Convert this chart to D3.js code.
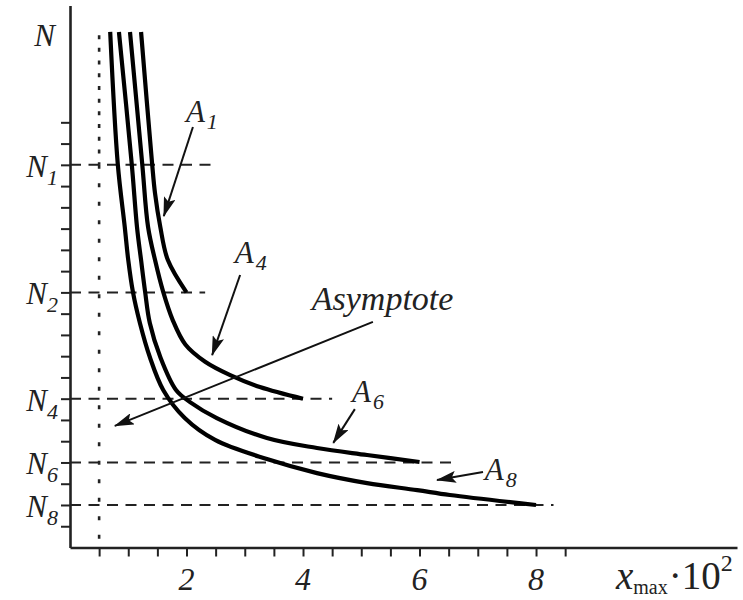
<!DOCTYPE html>
<html><head><meta charset="utf-8">
<script src="https://cdn.jsdelivr.net/npm/d3@7"></script>
<style>
body{margin:0;background:#fff;}
</style></head>
<body><svg id="c" width="743" height="600" font-family="'Liberation Serif', 'DejaVu Serif', serif"></svg>
<script>
// ---- data ----
const xTicks = d3.range(0.5, 8.51, 0.5);
const xTickLabels = [2, 4, 6, 8];
const yTicks = d3.range(1, 21, 1);
const levelNames = ["N1", "N2", "N4", "N6", "N8"];
const levelValues = [18, 12, 7, 4, 2];
const levelExtent = [2.44, 2.32, 4.5, 6.6, 8.3];
const asymptoteX = 0.5;

const curveNames = ["A1", "A4", "A6", "A8"];
const a1X = [1.22, 1.41, 1.46, 1.55, 1.68, 2.0];
const a1N = [24.25, 18.04, 16.65, 15.08, 13.52, 12.0];
const a4X = [1.03, 1.24, 1.34, 1.46, 1.60, 1.76, 1.98, 2.32, 2.75, 3.26, 4.0];
const a4N = [24.25, 18.04, 15.08, 13.52, 12.02, 10.72, 9.55, 8.74, 8.11, 7.55, 7.0];
const a6X = [0.84, 1.06, 1.15, 1.22, 1.29, 1.37, 1.55, 1.82, 2.06, 2.52, 3.38, 4.24, 5.10, 6.0];
const a6N = [24.25, 18.04, 15.08, 13.52, 12.02, 10.56, 8.96, 7.41, 6.84, 6.09, 5.15, 4.68, 4.35, 4.02];
const a8X = [0.69, 0.82, 0.94, 1.00, 1.08, 1.20, 1.37, 1.60, 1.97, 2.49, 3.38, 4.24, 5.10, 5.96, 6.52, 8.0];
const a8N = [24.25, 18.04, 15.08, 13.52, 12.02, 10.56, 8.96, 7.41, 6.09, 5.06, 4.16, 3.50, 3.03, 2.70, 2.47, 2.0];

// annotations: label anchor and arrow (from -> to) in data units
const annoText = ["A1", "A4", "Asymptote", "A6", "A8"];
const annoLabelX = [1.99, 2.83, 4.15, 4.84, 7.12];
const annoLabelN = [20.02, 13.38, 11.17, 6.84, 3.17];
const arrowFromX = [2.11, 2.92, 5.20, 4.89, 7.09];
const arrowFromN = [19.78, 12.82, 10.61, 6.51, 3.55];
const arrowToX = [1.61, 2.44, 0.77, 4.52, 6.30];
const arrowToN = [15.59, 9.05, 5.72, 4.92, 3.17];

// ---- layout ----
const svg = d3.select("#c");
const x = d3.scaleLinear().domain([0, 11.45]).range([70, 737]);
const y = d3.scaleLinear().domain([0, 25.5]).range([547.5, 5.4]);

svg.append("defs").append("marker")
  .attr("id", "ah").attr("viewBox", "0 0 20 12").attr("refX", 19).attr("refY", 6)
  .attr("markerWidth", 20).attr("markerHeight", 12).attr("markerUnits", "userSpaceOnUse")
  .attr("orient", "auto")
  .append("path").attr("d", "M0,0 L20,6 L0,12 L4,6 Z").attr("fill", "#111");

// axes
const gx = svg.append("g").attr("transform", `translate(0,${y(0)})`)
  .call(d3.axisBottom(x).tickValues(xTicks).tickSize(9).tickSizeOuter(0).tickFormat(""));
const gy = svg.append("g").attr("transform", `translate(${x(0)},0)`)
  .call(d3.axisLeft(y).tickValues(yTicks).tickSize(9).tickSizeOuter(0).tickFormat(""));
[gx, gy].forEach(g => {
  g.select(".domain").attr("stroke", "#222").attr("stroke-width", 2.6);
  g.selectAll(".tick line").attr("stroke", "#222").attr("stroke-width", 2);
});

const FONT = "'Liberation Serif', 'DejaVu Serif', serif";

// x tick labels
svg.append("g").selectAll("text").data(xTickLabels).join("text")
  .attr("x", d => x(d)).attr("y", y(0) + 42)
  .attr("text-anchor", "middle").attr("font-family", FONT).attr("font-style", "italic").attr("font-size", 32)
  .attr("fill", "#222").text(d => d);

// x axis title
const xt = svg.append("text").attr("x", 616).attr("y", 589).attr("font-size", 39)
  .attr("font-family", FONT).attr("fill", "#222");
xt.append("tspan").attr("font-style", "italic").text("x");
xt.append("tspan").attr("font-size", 20).attr("dy", 5).text("max");
xt.append("tspan").attr("dy", -5).attr("dx", 1).text("·10");
xt.append("tspan").attr("font-size", 24).attr("dy", -18).text("2");

// y labels
svg.append("text").attr("x", x(0) - 15).attr("y", y(24.15) + 12)
  .attr("text-anchor", "end").attr("font-family", FONT).attr("font-style", "italic")
  .attr("font-size", 31).attr("fill", "#222").text("N");
const lv = svg.append("g").selectAll("text").data(levelNames).join("text")
  .attr("x", x(0) - 12).attr("y", (d, i) => y(levelValues[i]) + 12)
  .attr("text-anchor", "end").attr("font-family", FONT).attr("font-style", "italic")
  .attr("font-size", 31).attr("fill", "#222");
lv.append("tspan").text(d => d[0]);
lv.append("tspan").attr("font-size", 22).attr("dy", 8).text(d => d.slice(1));

// dashed level lines
svg.append("g").selectAll("line").data(levelValues).join("line")
  .attr("x1", x(0)).attr("x2", (d, i) => x(levelExtent[i]))
  .attr("y1", d => y(d)).attr("y2", d => y(d))
  .attr("stroke", "#222").attr("stroke-width", 2).attr("stroke-dasharray", "11,7.5");

// dotted asymptote (denser dots above N1)
svg.append("line").attr("x1", x(asymptoteX)).attr("x2", x(asymptoteX))
  .attr("y1", y(24.1)).attr("y2", y(levelValues[0]))
  .attr("stroke", "#222").attr("stroke-width", 2.6).attr("stroke-dasharray", "4,8.7");
svg.append("line").attr("x1", x(asymptoteX)).attr("x2", x(asymptoteX))
  .attr("y1", y(levelValues[0])).attr("y2", y(0))
  .attr("stroke", "#222").attr("stroke-width", 2.6).attr("stroke-dasharray", "4,14.5");

// curves
const series = [[a1X, a1N], [a4X, a4N], [a6X, a6N], [a8X, a8N]];
const line = d3.line().x(d => x(d[0])).y(d => y(d[1])).curve(d3.curveCatmullRom.alpha(0.5));
svg.append("g").selectAll("path").data(series).join("path")
  .attr("d", s => line(s[0].map((v, i) => [v, s[1][i]])))
  .attr("fill", "none").attr("stroke", "#000").attr("stroke-width", 4.2);

// annotations
svg.append("g").selectAll("line").data(annoText).join("line")
  .attr("x1", (d, i) => x(arrowFromX[i])).attr("y1", (d, i) => y(arrowFromN[i]))
  .attr("x2", (d, i) => x(arrowToX[i])).attr("y2", (d, i) => y(arrowToN[i]))
  .attr("stroke", "#111").attr("stroke-width", 2).attr("marker-end", "url(#ah)");
const at = svg.append("g").selectAll("text").data(annoText).join("text")
  .attr("x", (d, i) => x(annoLabelX[i])).attr("y", (d, i) => y(annoLabelN[i]))
  .attr("font-family", FONT).attr("font-style", "italic")
  .attr("font-size", d => d.length === 2 ? 31 : 34).attr("fill", "#222");
at.append("tspan").text(d => d.length === 2 ? d[0] : d);
at.append("tspan").attr("font-size", 22).attr("dy", 7).attr("dx", 2).text(d => d.length === 2 ? d.slice(1) : "");
</script></body></html>
